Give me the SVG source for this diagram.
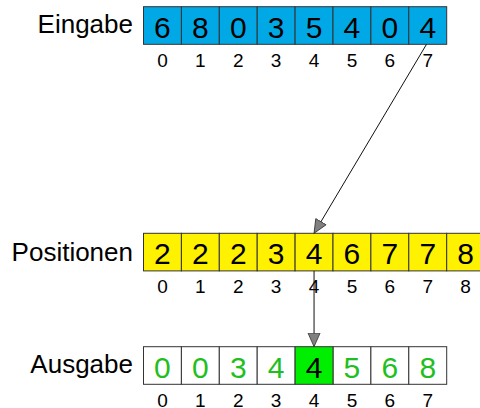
<svg xmlns="http://www.w3.org/2000/svg" width="480" height="408" viewBox="0 0 480 408">
<style>
.lbl{font-family:"Liberation Sans",Arial,sans-serif;font-size:26px;fill:#000;text-anchor:end}
.val{font-family:"Liberation Sans",Arial,sans-serif;font-size:30px;fill:#000;text-anchor:middle}
.idx{font-family:"Liberation Sans",Arial,sans-serif;font-size:19px;fill:#000;text-anchor:middle}
.g{fill:#1fbf1f}
.c{stroke:#333;stroke-width:1}
.blue{fill:#00a9e6}
.yel{fill:#fff200}
.wht{fill:#fff}
.grn{fill:#00ee00}
.conn{stroke:#111;stroke-width:1;fill:none;marker-end:url(#ah)}
</style>
<defs>
<marker id="ah" markerUnits="userSpaceOnUse" markerWidth="16" markerHeight="14" refX="14" refY="6.5" orient="auto">
<path d="M0.5,0.5 L14,6.5 L0.5,12.5 z" fill="#808080" stroke="#333" stroke-width="0.8"/>
</marker>
</defs>
<rect width="480" height="408" fill="#fff"/>
<g id="eingabe">
<text class="lbl" x="133" y="33.4">Eingabe</text>
<g class="c blue">
<rect x="143.5" y="6.7" width="37.9" height="37.6"/>
<rect x="181.4" y="6.7" width="37.9" height="37.6"/>
<rect x="219.3" y="6.7" width="37.9" height="37.6"/>
<rect x="257.2" y="6.7" width="37.9" height="37.6"/>
<rect x="295.1" y="6.7" width="37.9" height="37.6"/>
<rect x="333.0" y="6.7" width="37.9" height="37.6"/>
<rect x="370.9" y="6.7" width="37.9" height="37.6"/>
<rect x="408.8" y="6.7" width="37.9" height="37.6"/>
</g>
<text class="val" x="162.45" y="37.7">6</text>
<text class="val" x="200.35" y="37.7">8</text>
<text class="val" x="238.25" y="37.7">0</text>
<text class="val" x="276.15" y="37.7">3</text>
<text class="val" x="314.05" y="37.7">5</text>
<text class="val" x="351.95" y="37.7">4</text>
<text class="val" x="389.85" y="37.7">0</text>
<text class="val" x="427.75" y="37.7">4</text>
<text class="idx" x="162.45" y="66.7">0</text>
<text class="idx" x="200.35" y="66.7">1</text>
<text class="idx" x="238.25" y="66.7">2</text>
<text class="idx" x="276.15" y="66.7">3</text>
<text class="idx" x="314.05" y="66.7">4</text>
<text class="idx" x="351.95" y="66.7">5</text>
<text class="idx" x="389.85" y="66.7">6</text>
<text class="idx" x="427.75" y="66.7">7</text>
</g>
<g id="positionen">
<text class="lbl" x="133" y="261">Positionen</text>
<g class="c yel">
<rect x="143.5" y="233.3" width="37.9" height="37.6"/>
<rect x="181.4" y="233.3" width="37.9" height="37.6"/>
<rect x="219.3" y="233.3" width="37.9" height="37.6"/>
<rect x="257.2" y="233.3" width="37.9" height="37.6"/>
<rect x="295.1" y="233.3" width="37.9" height="37.6"/>
<rect x="333.0" y="233.3" width="37.9" height="37.6"/>
<rect x="370.9" y="233.3" width="37.9" height="37.6"/>
<rect x="408.8" y="233.3" width="37.9" height="37.6"/>
<rect x="446.7" y="233.3" width="37.9" height="37.6"/>
</g>
<text class="val" x="162.45" y="264.3">2</text>
<text class="val" x="200.35" y="264.3">2</text>
<text class="val" x="238.25" y="264.3">2</text>
<text class="val" x="276.15" y="264.3">3</text>
<text class="val" x="314.05" y="264.3">4</text>
<text class="val" x="351.95" y="264.3">6</text>
<text class="val" x="389.85" y="264.3">7</text>
<text class="val" x="427.75" y="264.3">7</text>
<text class="val" x="465.65" y="264.3">8</text>
<text class="idx" x="162.45" y="293.3">0</text>
<text class="idx" x="200.35" y="293.3">1</text>
<text class="idx" x="238.25" y="293.3">2</text>
<text class="idx" x="276.15" y="293.3">3</text>
<text class="idx" x="314.05" y="293.3">4</text>
<text class="idx" x="351.95" y="293.3">5</text>
<text class="idx" x="389.85" y="293.3">6</text>
<text class="idx" x="427.75" y="293.3">7</text>
<text class="idx" x="465.65" y="293.3">8</text>
</g>
<g id="ausgabe">
<text class="lbl" x="133" y="373.4">Ausgabe</text>
<g class="c wht">
<rect x="143.5" y="346.7" width="37.9" height="37.6"/>
<rect x="181.4" y="346.7" width="37.9" height="37.6"/>
<rect x="219.3" y="346.7" width="37.9" height="37.6"/>
<rect x="257.2" y="346.7" width="37.9" height="37.6"/>
<rect x="333.0" y="346.7" width="37.9" height="37.6"/>
<rect x="370.9" y="346.7" width="37.9" height="37.6"/>
<rect x="408.8" y="346.7" width="37.9" height="37.6"/>
</g>
<rect class="c grn" x="295.1" y="346.7" width="37.9" height="37.6"/>
<text class="val g" x="162.45" y="377.7">0</text>
<text class="val g" x="200.35" y="377.7">0</text>
<text class="val g" x="238.25" y="377.7">3</text>
<text class="val g" x="276.15" y="377.7">4</text>
<text class="val" x="314.05" y="377.7">4</text>
<text class="val g" x="351.95" y="377.7">5</text>
<text class="val g" x="389.85" y="377.7">6</text>
<text class="val g" x="427.75" y="377.7">8</text>
<text class="idx" x="162.45" y="406.7">0</text>
<text class="idx" x="200.35" y="406.7">1</text>
<text class="idx" x="238.25" y="406.7">2</text>
<text class="idx" x="276.15" y="406.7">3</text>
<text class="idx" x="314.05" y="406.7">4</text>
<text class="idx" x="351.95" y="406.7">5</text>
<text class="idx" x="389.85" y="406.7">6</text>
<text class="idx" x="427.75" y="406.7">7</text>
</g>
<g id="connectors">
<line class="conn" x1="426.5" y1="44.3" x2="314.05" y2="233.3"/>
<line class="conn" x1="314.05" y1="270.9" x2="314.05" y2="346.7"/>
</g>
</svg>
